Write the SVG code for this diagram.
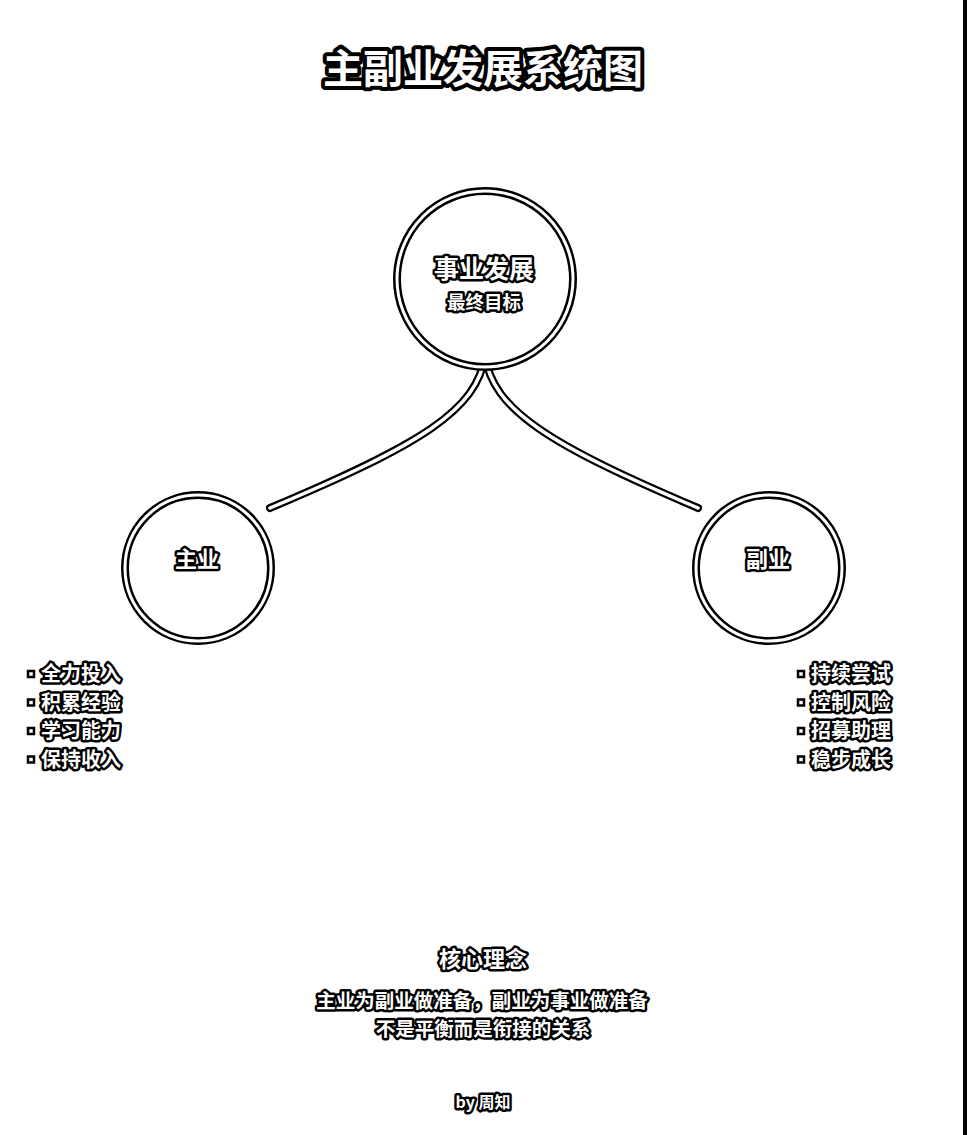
<svg xmlns="http://www.w3.org/2000/svg" width="968" height="1135" viewBox="0 0 968 1135">
<style>
text{font-family:"Noto Sans CJK SC","Noto Sans",sans-serif;font-weight:bold;fill:#fff;stroke:#000;stroke-linejoin:round;paint-order:stroke;text-anchor:middle}
.t{font-size:40px;stroke-width:8}
.lg{font-size:25px;stroke-width:5}
.md{font-size:22px;stroke-width:5}
.sm{font-size:18.5px;stroke-width:5}
.li{font-size:20px;stroke-width:5;text-anchor:start}
.ft{font-size:19.5px;stroke-width:5}
.by{font-size:16px;stroke-width:5}
.ringB{fill:#fff;stroke:#000;stroke-width:8}
.ringW{fill:none;stroke:#fff;stroke-width:3}
.cB{fill:none;stroke:#000;stroke-width:8;stroke-linecap:round}
.cW{fill:none;stroke:#fff;stroke-width:3.5;stroke-linecap:round}
.bu{fill:#fff;stroke:#000;stroke-width:2.5}
</style>
<rect x="0" y="0" width="968" height="1135" fill="#fff"/>
<rect x="963" y="0" width="4" height="1135" fill="#000"/>
<text class="t" x="483" y="83">主副业发展系统图</text>
<g id="connectors">
<path class="cB" d="M485,355 C478,410 420,445 270,508"/>
<path class="cB" d="M485,355 C492,410 550,445 698,508"/>
<path class="cW" d="M485,355 C478,410 420,445 270,508"/>
<path class="cW" d="M485,355 C492,410 550,445 698,508"/>
</g>
<g id="node-top">
<circle class="ringB" cx="485" cy="279" r="88"/>
<circle class="ringW" cx="485" cy="279" r="88"/>
<text class="lg" x="484" y="278">事业发展</text>
<text class="sm" x="484" y="309">最终目标</text>
</g>
<g id="node-main">
<circle class="ringB" cx="198" cy="568" r="73"/>
<circle class="ringW" cx="198" cy="568" r="73"/>
<text class="md" x="197" y="567">主业</text>
</g>
<g id="node-side">
<circle class="ringB" cx="769" cy="568" r="73"/>
<circle class="ringW" cx="769" cy="568" r="73"/>
<text class="md" x="768" y="567">副业</text>
</g>
<g id="list-main">
<rect class="bu" x="28" y="671" width="6" height="6"/>
<rect class="bu" x="28" y="699.5" width="6" height="6"/>
<rect class="bu" x="28" y="728" width="6" height="6"/>
<rect class="bu" x="28" y="756.5" width="6" height="6"/>
<text class="li" x="41" y="681">全力投入</text>
<text class="li" x="41" y="709.5">积累经验</text>
<text class="li" x="41" y="738">学习能力</text>
<text class="li" x="41" y="766.5">保持收入</text>
</g>
<g id="list-side">
<rect class="bu" x="798" y="671" width="6" height="6"/>
<rect class="bu" x="798" y="699.5" width="6" height="6"/>
<rect class="bu" x="798" y="728" width="6" height="6"/>
<rect class="bu" x="798" y="756.5" width="6" height="6"/>
<text class="li" x="811" y="681">持续尝试</text>
<text class="li" x="811" y="709.5">控制风险</text>
<text class="li" x="811" y="738">招募助理</text>
<text class="li" x="811" y="766.5">稳步成长</text>
</g>
<g id="core">
<text class="md" x="483" y="967">核心理念</text>
<text class="ft" x="482" y="1008">主业为副业做准备，副业为事业做准备</text>
<text class="ft" x="483" y="1036">不是平衡而是衔接的关系</text>
</g>
<text class="by" x="483" y="1108">by 周知</text>
</svg>
